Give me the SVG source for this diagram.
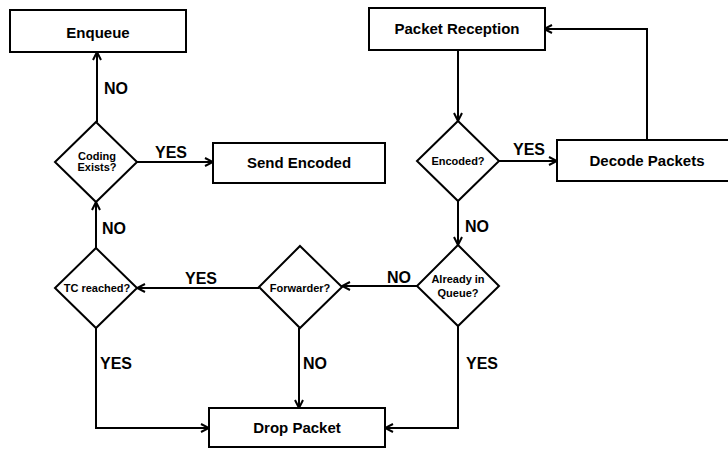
<svg xmlns="http://www.w3.org/2000/svg" width="728" height="452" viewBox="0 0 728 452">
  <style>
    .box { fill: #fff; stroke: #000; stroke-width: 2; }
    .dia { fill: #fff; stroke: #000; stroke-width: 2; }
    .t { font-family: "Liberation Sans", Arial, sans-serif; font-weight: bold; font-size: 15px; text-anchor: middle; fill: #000; }
    .td { font-family: "Liberation Sans", Arial, sans-serif; font-weight: bold; font-size: 11px; text-anchor: middle; fill: #000; }
    .lbl { font-family: "Liberation Sans", Arial, sans-serif; font-weight: bold; font-size: 16px; fill: #000; }
    .edge { fill: none; stroke: #000; stroke-width: 2; marker-end: url(#arr); }
  </style>
  <defs>
    <marker id="arr" viewBox="0 0 10 10" refX="9" refY="5" markerWidth="10" markerHeight="10" markerUnits="userSpaceOnUse" orient="auto">
      <path d="M1,1 L9,5 L1,9" fill="none" stroke="#000" stroke-width="2"/>
    </marker>
  </defs>
  <rect width="728" height="452" fill="#fff"/>

  <!-- connectors and their branch labels -->
  <g id="connectors">
    <path class="edge" d="M97,122 V52"/>
    <path class="edge" d="M137,162 H213"/>
    <path class="edge" d="M96,248 V202"/>
    <path class="edge" d="M259,288 H137"/>
    <path class="edge" d="M417,286 H342"/>
    <path class="edge" d="M458,50 V121"/>
    <path class="edge" d="M499,161 H557"/>
    <path class="edge" d="M647,139 V29 H544"/>
    <path class="edge" d="M458,200 V245"/>
    <path class="edge" d="M96,328 V428 H209"/>
    <path class="edge" d="M299,328 V408"/>
    <path class="edge" d="M458,326 V428 H385"/>
    <text class="lbl" x="104" y="94">NO</text>
    <text class="lbl" x="155" y="158">YES</text>
    <text class="lbl" x="102" y="234">NO</text>
    <text class="lbl" x="185" y="284">YES</text>
    <text class="lbl" x="387" y="283">NO</text>
    <text class="lbl" x="465" y="232">NO</text>
    <text class="lbl" x="513" y="155">YES</text>
    <text class="lbl" x="100" y="369">YES</text>
    <text class="lbl" x="303" y="369">NO</text>
    <text class="lbl" x="466" y="369">YES</text>
  </g>

  <g id="enqueue">
    <rect class="box" x="10" y="10" width="176" height="42"/>
    <text class="t" x="98" y="38">Enqueue</text>
  </g>
  <g id="coding-exists">
    <polygon class="dia" points="96,122 137,162 96,202 55,162"/>
    <text class="td" x="97" y="160">Coding</text>
    <text class="td" x="97" y="171">Exists?</text>
  </g>
  <g id="send-encoded">
    <rect class="box" x="213" y="143" width="172" height="40"/>
    <text class="t" x="299" y="168">Send Encoded</text>
  </g>
  <g id="packet-reception">
    <rect class="box" x="369" y="8" width="176" height="42"/>
    <text class="t" x="457" y="34">Packet Reception</text>
  </g>
  <g id="encoded">
    <polygon class="dia" points="458,121 499,161 458,201 417,161"/>
    <text class="td" x="458" y="165">Encoded?</text>
  </g>
  <g id="decode-packets">
    <rect class="box" x="557" y="140" width="180" height="41"/>
    <text class="t" x="647" y="166">Decode Packets</text>
  </g>
  <g id="already-in-queue">
    <polygon class="dia" points="458,245 499,286 458,326 417,286"/>
    <text class="td" x="458" y="283">Already in</text>
    <text class="td" x="458" y="297">Queue?</text>
  </g>
  <g id="forwarder">
    <polygon class="dia" points="300,246 342,287 300,328 259,287"/>
    <text class="td" x="300" y="292">Forwarder?</text>
  </g>
  <g id="tc-reached">
    <polygon class="dia" points="96,248 137,288 96,328 55,288"/>
    <text class="td" x="97" y="292">TC reached?</text>
  </g>
  <g id="drop-packet">
    <rect class="box" x="209" y="408" width="176" height="39"/>
    <text class="t" x="297" y="433">Drop Packet</text>
  </g>
</svg>
